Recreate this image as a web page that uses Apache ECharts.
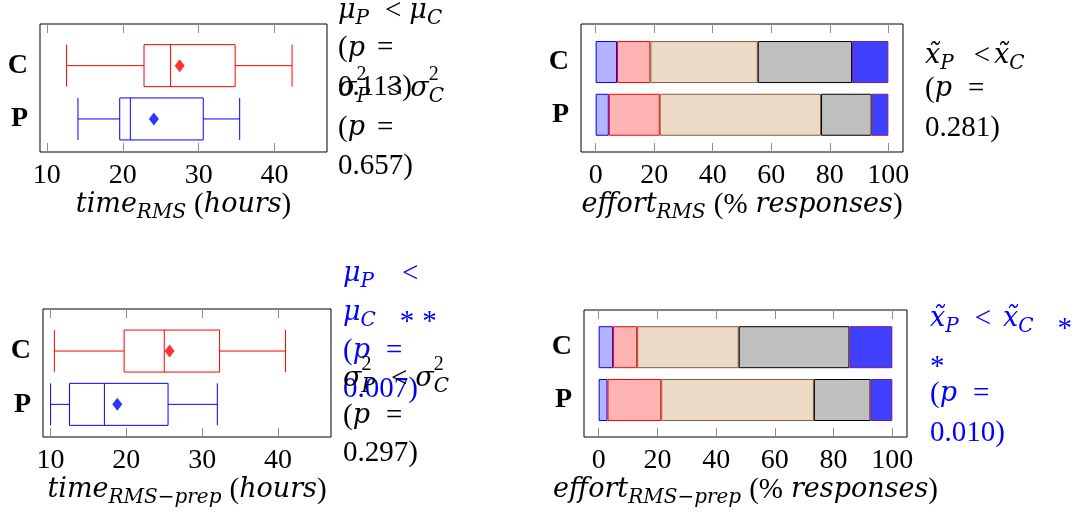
<!DOCTYPE html>
<html>
<head>
<meta charset="utf-8">
<script src="https://cdn.jsdelivr.net/npm/echarts@6/dist/echarts.min.js"></script>
<style>
html, body { margin: 0; padding: 0; background: #fff; }
#chart { width: 1079px; height: 518px; }
</style>
</head>
<body>
<div id="chart"></div>
<script>
var groups = ["P", "C"];

// box statistics: [min, Q1, median, Q3, max]
var timeRmsP = [14.1, 19.6, 21.0, 30.6, 35.4];
var timeRmsC = [12.6, 22.8, 26.3, 34.8, 42.3];
var timeRmsMean = [24.1, 27.5];
var timePrepP = [10.0, 12.5, 17.1, 25.5, 32.0];
var timePrepC = [10.5, 19.7, 25.0, 32.3, 41.0];
var timePrepMean = [18.8, 25.7];

// % responses per effort level, [P, C]
var effortRms = [[4.5, 7.3], [17.4, 11.4], [55.1, 36.7], [17.3, 32.2], [5.7, 12.4]];
var effortPrep = [[3.0, 4.9], [18.3, 8.2], [52.0, 34.6], [19.3, 37.7], [7.4, 14.6]];

var timeTicks = [10, 20, 30, 40];
var effortTicks = [0, 20, 40, 60, 80, 100];

// annotation lines
var noteRmsMean = ["{i|μ}{sb|P}{g16| }{n|<}{g8| }{i|μ}{sb|C}", "{n|(}{i|p}{g12| }{n|=}", "{n|0.113)}"];
var noteRmsVar = ["{i|σ}{sp|2}{sb|P}{g16| }{n|<}{g8| }{i|σ}{sp|2}{sb|C}", "{n|(}{i|p}{g12| }{n|=}", "{n|0.657)}"];
var notePrepMean = ["{i|μ}{sb|P}{g28| }{n|<}", "{i|μ}{sb|C}{g24| }{a|*}{g8| }{a|*}", "{n|(}{i|p}{g16| }{n|=}", "{n|0.007)}"];
var notePrepVar = ["{i|σ}{sp|2}{sb|P}{g16| }{n|<}{g8| }{i|σ}{sp|2}{sb|C}", "{n|(}{i|p}{g16| }{n|=}", "{n|0.297)}"];
var noteEffortRms = ["{i|x̃}{sb|P}{g20| }{n|<}{g4| }{i|x̃}{sb|C}", "{n|(}{i|p}{g16| }{n|=}", "{n|0.281)}"];
var noteEffortPrep = ["{i|x̃}{sb|P}{g16| }{n|<}{g12| }{i|x̃}{sb|C}{g24| }{a|*}", "{a|*}", "{n|(}{i|p}{g16| }{n|=}", "{n|0.010)}"];

var FONT = "Liberation Serif";
var IFONT = "DejaVu Serif";
var levelFill = ["#b3b3ff", "#ffb3b3", "#ecd9c6", "#bfbfbf", "#4040ff"];
var levelBorder = ["#0000ff", "#ff0000", "#7f5f3f", "#000000", "#7a1a8a"];

function rich(color) {
    var r = {
        n: { fontFamily: FONT, fontSize: 29, lineHeight: 36, color: color },
        i: { fontFamily: IFONT, fontSize: 27, lineHeight: 36, fontStyle: "italic", color: color },
        sb: { fontFamily: IFONT, fontSize: 20, lineHeight: 20, padding: [16, 0, 0, 0], fontStyle: "italic", color: color },
        sp: { fontFamily: FONT, fontSize: 20, lineHeight: 8, padding: [0, 0, 28, 0], width: 0.01, color: color },
        a: { fontFamily: FONT, fontSize: 29, lineHeight: 16, padding: [20, 0, 0, 0], color: color }
    };
    [4, 8, 12, 16, 20, 24, 28].forEach(function (w) {
        r["g" + w] = { width: w, fontSize: 29, lineHeight: 36 };
    });
    return r;
}

var panels = [
    { frame: [40, 24, 287, 128], data: [39, 106.6], range: [9.1, 46.9], ticks: timeTicks,
      name: "{i|time}{sb|RMS}{g8| }{n|(}{i|hours}{n|)}" },
    { frame: [581, 24, 322, 128], data: [35.7, 105.4], range: [-5, 105], ticks: effortTicks,
      name: "{i|effort}{sb|RMS}{g8| }{n|(%}{g8| }{i|responses}{n|)}" },
    { frame: [43, 309, 288, 128], data: [324.4, 106.6], range: [9, 47], ticks: timeTicks,
      name: "{i|time}{sb|RMS−prep}{g8| }{n|(}{i|hours}{n|)}" },
    { frame: [584, 310, 323, 127], data: [320.8, 105.6], range: [-5, 105], ticks: effortTicks,
      name: "{i|effort}{sb|RMS−prep}{g8| }{n|(%}{g8| }{i|responses}{n|)}" }
];

var grid = [], xAxis = [], yAxis = [];
var tickStyle = { color: "#8c8c8c", width: 1 };
panels.forEach(function (p, k) {
    var f = p.frame;
    grid.push({ left: f[0], top: f[1], width: f[2], height: f[3], show: true,
        borderColor: "#000", borderWidth: 1, outerBoundsMode: "none" });
    grid.push({ left: f[0], top: p.data[0], width: f[2], height: p.data[1], outerBoundsMode: "none" });
    xAxis.push({
        gridIndex: 2 * k, type: "value", min: p.range[0], max: p.range[1],
        axisLine: { show: false }, splitLine: { show: false },
        axisTick: { inside: true, length: 9, customValues: p.ticks, lineStyle: tickStyle },
        axisLabel: { customValues: p.ticks, margin: 10, fontFamily: FONT, fontSize: 28, color: "#000" },
        name: p.name, nameLocation: "middle", nameGap: 35, nameMoveOverlap: false,
        nameTextStyle: { rich: rich("#000") }
    });
    xAxis.push({
        gridIndex: 2 * k, type: "value", position: "top", min: p.range[0], max: p.range[1],
        axisLine: { show: false }, splitLine: { show: false }, axisLabel: { show: false },
        axisTick: { inside: true, length: 9, customValues: p.ticks, lineStyle: tickStyle }
    });
    xAxis.push({ gridIndex: 2 * k + 1, type: "value", min: p.range[0], max: p.range[1], show: false });
    yAxis.push({ gridIndex: 2 * k, type: "value", show: false });
    yAxis.push({
        gridIndex: 2 * k + 1, type: "category", data: groups,
        axisLine: { show: false },
        axisTick: { inside: true, length: 9, alignWithLabel: true, lineStyle: tickStyle },
        axisLabel: { margin: 12, fontFamily: FONT, fontSize: 28, fontWeight: "bold", color: "#000" }
    });
    yAxis.push({
        gridIndex: 2 * k + 1, type: "category", data: groups, position: "right",
        axisLine: { show: false }, axisLabel: { show: false },
        axisTick: { inside: true, length: 9, alignWithLabel: true, lineStyle: tickStyle }
    });
});

var boxColors = ["#0000ff", "#ff0000"];
function boxSeries(k, stats, means) {
    return [{
        type: "boxplot", xAxisIndex: 3 * k + 2, yAxisIndex: 3 * k + 1,
        boxWidth: [42, 42],
        data: stats.map(function (s, i) {
            return { value: s, itemStyle: { color: "#fff", borderColor: boxColors[i], borderWidth: 1 } };
        })
    }, {
        type: "scatter", xAxisIndex: 3 * k + 2, yAxisIndex: 3 * k + 1,
        symbol: "diamond", symbolSize: [10, 13],
        data: means.map(function (m, i) {
            return { value: [m, i], itemStyle: { color: boxColors[i] } };
        })
    }];
}
function effortSeries(k, levels) {
    return levels.map(function (vals, j) {
        return {
            type: "bar", xAxisIndex: 3 * k + 2, yAxisIndex: 3 * k + 1,
            stack: "effort" + k, barWidth: 42, data: vals,
            itemStyle: { color: levelFill[j], borderColor: levelBorder[j], borderWidth: 1 }
        };
    });
}

var series = [].concat(
    boxSeries(0, [timeRmsP, timeRmsC], timeRmsMean),
    effortSeries(1, effortRms),
    boxSeries(2, [timePrepP, timePrepC], timePrepMean),
    effortSeries(3, effortPrep)
);

var notes = [
    { lines: noteRmsMean, x: 338, y: [11, 48.5, 87], color: "#000" },
    { lines: noteRmsVar, x: 338, y: [89, 128, 166], color: "#000" },
    { lines: notePrepMean, x: 343, y: [274, 312.5, 351, 389.5], color: "#0000ff" },
    { lines: notePrepVar, x: 343, y: [379, 416, 453], color: "#000" },
    { lines: noteEffortRms, x: 925, y: [56, 89, 128], color: "#000" },
    { lines: noteEffortPrep, x: 930, y: [319, 357, 394, 433], color: "#0000ff" }
];
var graphic = [];
notes.forEach(function (nt) {
    nt.lines.forEach(function (line, i) {
        graphic.push({
            type: "text", x: nt.x, y: nt.y[i], silent: true,
            style: { text: line, rich: rich(nt.color), fill: nt.color, align: "left", verticalAlign: "middle" }
        });
    });
});

var chart = echarts.init(document.getElementById("chart"));
chart.setOption({
    animation: false,
    grid: grid,
    xAxis: xAxis,
    yAxis: yAxis,
    series: series,
    graphic: graphic
});
</script>
</body>
</html>
